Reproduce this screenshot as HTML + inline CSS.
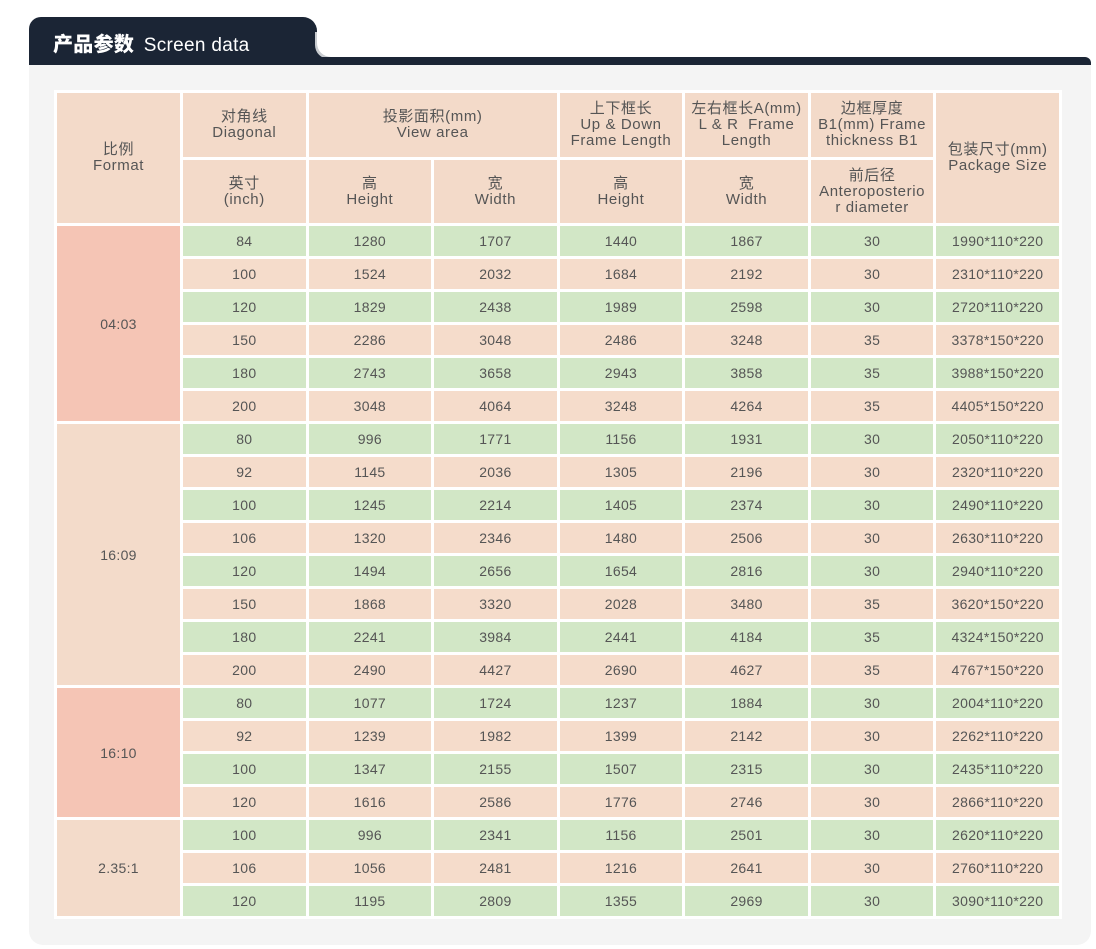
<!DOCTYPE html>
<html><head><meta charset="utf-8"><style>
body{margin:0;width:1096px;height:949px;background:#fff;position:relative;overflow:hidden;font-family:"Liberation Sans","Noto Sans CJK SC",sans-serif;}
.tab{position:absolute;left:29px;top:17px;width:288px;height:48px;background:#1b2535;border-radius:12px 14px 0 0;}
.bar{position:absolute;left:29px;top:57px;width:1062px;height:8px;background:#1b2535;border-radius:0 6px 0 0;}
.curve{position:absolute;left:305px;top:40px;width:24px;height:17px;background:#1b2535;}
.curve2{position:absolute;left:317px;top:30px;width:30px;height:27px;background:#fff;border-bottom-left-radius:14px;box-shadow:-2px 2px 0 #c9ccd0;}
.title{position:absolute;left:53px;top:28px;color:#fff;font-size:19px;white-space:nowrap;letter-spacing:0.3px;}
.title b{font-size:20px;font-family:"Noto Sans CJK SC",sans-serif;font-weight:900;margin-right:4px;}
.panel{position:absolute;left:29px;top:65px;width:1062px;height:880px;background:#f4f4f4;border-radius:0 0 14px 14px;}
table{position:absolute;left:54px;top:90px;border-spacing:3px;background:#fff;table-layout:fixed;width:1008px;}
td{color:#555;font-size:14px;text-align:center;padding:0;line-height:16px;letter-spacing:0.3px;}
td.h{font-size:15px;letter-spacing:0.6px;}
.h{background:#f3dac9;}
.g{background:#d2e7c6;height:30px;}
.p{background:#f5dccb;height:30px;}
.s{background:#f5c5b5;}
.f{background:#f3dbca;}
</style></head><body>
<div class="panel"></div>
<div class="tab"></div><div class="curve"></div><div class="curve2"></div><div class="bar"></div>
<div class="title"><b>产品参数</b> Screen data</div>
<table>
<colgroup><col style="width:123px"><col><col><col><col><col><col><col></colgroup>
<tr style="height:64px"><td class="h" rowspan="2">比例<br>Format</td><td class="h">对角线<br>Diagonal</td><td class="h" colspan="2">投影面积(mm)<br>View area</td><td class="h">上下框长<br>Up &amp; Down<br>Frame Length</td><td class="h">左右框长A(mm)<br>L &amp; R &nbsp;Frame<br>Length</td><td class="h">边框厚度<br>B1(mm) Frame<br>thickness B1</td><td class="h" rowspan="2">包装尺寸(mm)<br>Package Size</td></tr>
<tr style="height:63px"><td class="h">英寸<br>(inch)</td><td class="h">高<br>Height</td><td class="h">宽<br>Width</td><td class="h">高<br>Height</td><td class="h">宽<br>Width</td><td class="h">前后径<br>Anteroposterio<br>r diameter</td></tr>
<tr><td class="s" rowspan="6">04:03</td><td class="g">84</td><td class="g">1280</td><td class="g">1707</td><td class="g">1440</td><td class="g">1867</td><td class="g">30</td><td class="g">1990*110*220</td></tr>
<tr><td class="p">100</td><td class="p">1524</td><td class="p">2032</td><td class="p">1684</td><td class="p">2192</td><td class="p">30</td><td class="p">2310*110*220</td></tr>
<tr><td class="g">120</td><td class="g">1829</td><td class="g">2438</td><td class="g">1989</td><td class="g">2598</td><td class="g">30</td><td class="g">2720*110*220</td></tr>
<tr><td class="p">150</td><td class="p">2286</td><td class="p">3048</td><td class="p">2486</td><td class="p">3248</td><td class="p">35</td><td class="p">3378*150*220</td></tr>
<tr><td class="g">180</td><td class="g">2743</td><td class="g">3658</td><td class="g">2943</td><td class="g">3858</td><td class="g">35</td><td class="g">3988*150*220</td></tr>
<tr><td class="p">200</td><td class="p">3048</td><td class="p">4064</td><td class="p">3248</td><td class="p">4264</td><td class="p">35</td><td class="p">4405*150*220</td></tr>
<tr><td class="f" rowspan="8">16:09</td><td class="g">80</td><td class="g">996</td><td class="g">1771</td><td class="g">1156</td><td class="g">1931</td><td class="g">30</td><td class="g">2050*110*220</td></tr>
<tr><td class="p">92</td><td class="p">1145</td><td class="p">2036</td><td class="p">1305</td><td class="p">2196</td><td class="p">30</td><td class="p">2320*110*220</td></tr>
<tr><td class="g">100</td><td class="g">1245</td><td class="g">2214</td><td class="g">1405</td><td class="g">2374</td><td class="g">30</td><td class="g">2490*110*220</td></tr>
<tr><td class="p">106</td><td class="p">1320</td><td class="p">2346</td><td class="p">1480</td><td class="p">2506</td><td class="p">30</td><td class="p">2630*110*220</td></tr>
<tr><td class="g">120</td><td class="g">1494</td><td class="g">2656</td><td class="g">1654</td><td class="g">2816</td><td class="g">30</td><td class="g">2940*110*220</td></tr>
<tr><td class="p">150</td><td class="p">1868</td><td class="p">3320</td><td class="p">2028</td><td class="p">3480</td><td class="p">35</td><td class="p">3620*150*220</td></tr>
<tr><td class="g">180</td><td class="g">2241</td><td class="g">3984</td><td class="g">2441</td><td class="g">4184</td><td class="g">35</td><td class="g">4324*150*220</td></tr>
<tr><td class="p">200</td><td class="p">2490</td><td class="p">4427</td><td class="p">2690</td><td class="p">4627</td><td class="p">35</td><td class="p">4767*150*220</td></tr>
<tr><td class="s" rowspan="4">16:10</td><td class="g">80</td><td class="g">1077</td><td class="g">1724</td><td class="g">1237</td><td class="g">1884</td><td class="g">30</td><td class="g">2004*110*220</td></tr>
<tr><td class="p">92</td><td class="p">1239</td><td class="p">1982</td><td class="p">1399</td><td class="p">2142</td><td class="p">30</td><td class="p">2262*110*220</td></tr>
<tr><td class="g">100</td><td class="g">1347</td><td class="g">2155</td><td class="g">1507</td><td class="g">2315</td><td class="g">30</td><td class="g">2435*110*220</td></tr>
<tr><td class="p">120</td><td class="p">1616</td><td class="p">2586</td><td class="p">1776</td><td class="p">2746</td><td class="p">30</td><td class="p">2866*110*220</td></tr>
<tr><td class="f" rowspan="3">2.35:1</td><td class="g">100</td><td class="g">996</td><td class="g">2341</td><td class="g">1156</td><td class="g">2501</td><td class="g">30</td><td class="g">2620*110*220</td></tr>
<tr><td class="p">106</td><td class="p">1056</td><td class="p">2481</td><td class="p">1216</td><td class="p">2641</td><td class="p">30</td><td class="p">2760*110*220</td></tr>
<tr><td class="g">120</td><td class="g">1195</td><td class="g">2809</td><td class="g">1355</td><td class="g">2969</td><td class="g">30</td><td class="g">3090*110*220</td></tr>
</table>
</body></html>
